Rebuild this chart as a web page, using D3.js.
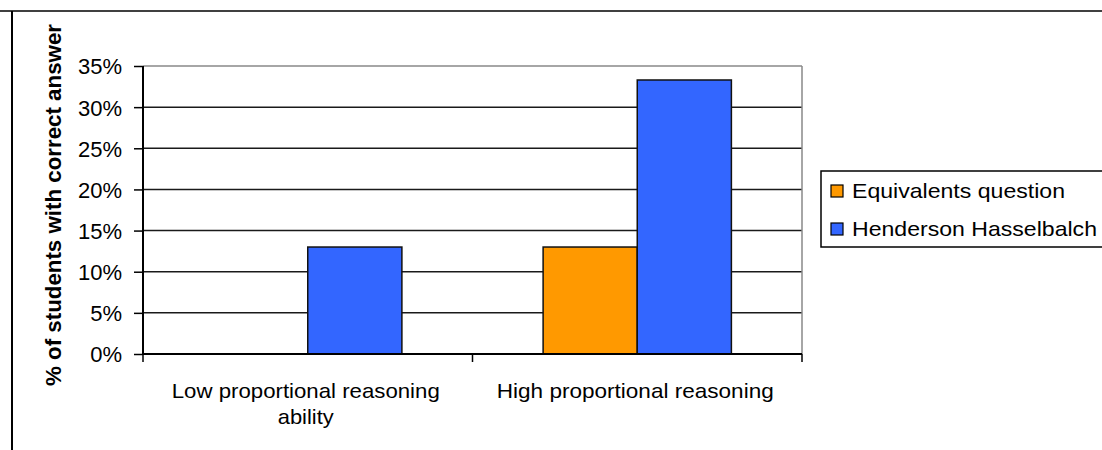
<!DOCTYPE html>
<html>
<head>
<meta charset="utf-8">
<script src="https://cdn.jsdelivr.net/npm/d3@7"></script>
<style>
  html, body { margin: 0; padding: 0; background: #fff; }
  svg { display: block; }
  text { font-family: "Liberation Sans", Arial, sans-serif; fill: #000; }
</style>
</head>
<body>
<svg id="chart" width="1102" height="450"></svg>
<script>
// ---- data ----
const categories = ["Low proportional reasoning ability", "High proportional reasoning"];
const categoryLines = [["Low proportional reasoning", "ability"], ["High proportional reasoning"]];
const categoryLineWidths = [[268, 56], [277]];
const series = ["Equivalents question", "Henderson Hasselbalch"];
const legendWidths = [213, 245];
const equivalentsValues = [0, 0.13];
const hendersonValues = [0.13, 0.333];
const yTicks = [0, 0.05, 0.10, 0.15, 0.20, 0.25, 0.30, 0.35];
const colors = ["#FF9900", "#3366FF"];

const svg = d3.select("#chart");

// frame lines
svg.append("line").attr("x1", 0).attr("x2", 1102).attr("y1", 11).attr("y2", 11)
  .attr("stroke", "#000").attr("stroke-width", 1.5);
svg.append("line").attr("x1", 12).attr("x2", 12).attr("y1", 11).attr("y2", 450)
  .attr("stroke", "#000").attr("stroke-width", 2);

const plot = { left: 143, right: 802, top: 66, bottom: 354 };

const x0 = d3.scaleBand().domain(categories).range([plot.left, plot.right]).padding(0);
const y = d3.scaleLinear().domain([0, 0.35]).range([plot.bottom, plot.top]);
const bw = x0.bandwidth();
const barW = bw / 3.5;
const x1 = d3.scaleBand().domain(series).range([barW * 0.75, bw - barW * 0.75]).padding(0);

// gridlines
svg.append("g").selectAll("line").data(yTicks.filter(t => t > 0 && t < 0.35)).join("line")
  .attr("x1", plot.left).attr("x2", plot.right)
  .attr("y1", d => y(d)).attr("y2", d => y(d))
  .attr("stroke", "#1a1a1a").attr("stroke-width", 1.5);

// top and right border (grey)
svg.append("line").attr("x1", plot.left).attr("x2", plot.right).attr("y1", plot.top).attr("y2", plot.top)
  .attr("stroke", "#888").attr("stroke-width", 1.5);
svg.append("line").attr("x1", plot.right).attr("x2", plot.right).attr("y1", plot.top).attr("y2", plot.bottom)
  .attr("stroke", "#888").attr("stroke-width", 1.5);

// bars
const rows = categories.map((c, i) => ({ cat: c, vals: [equivalentsValues[i], hendersonValues[i]] }));
const groups = svg.append("g").selectAll("g").data(rows).join("g")
  .attr("transform", d => `translate(${x0(d.cat)},0)`);
groups.selectAll("rect")
  .data(d => d.vals.map((v, j) => ({ s: series[j], v, j })).filter(e => e.v > 0))
  .join("rect")
  .attr("x", d => x1(d.s)).attr("width", x1.bandwidth())
  .attr("y", d => y(d.v)).attr("height", d => plot.bottom - y(d.v))
  .attr("fill", d => colors[d.j]).attr("stroke", "#111").attr("stroke-width", 1.5);

// y axis
const yAxis = d3.axisLeft(y).tickValues(yTicks).tickFormat(d3.format(".0%")).tickSize(9).tickPadding(12);
const gy = svg.append("g").attr("transform", `translate(${plot.left},0)`).call(yAxis);
gy.select(".domain").attr("stroke", "#000").attr("stroke-width", 2).attr("d", `M0,${plot.top}V${plot.bottom}`);
gy.selectAll(".tick line").attr("stroke", "#000").attr("stroke-width", 1.5);
gy.selectAll(".tick text").style("font-size", "22px").style("font-family", '"Liberation Sans", Arial, sans-serif')
  .attr("dy", "0.36em").attr("fill", "#000");

// x axis baseline and ticks at category boundaries
svg.append("line").attr("x1", plot.left).attr("x2", plot.right).attr("y1", plot.bottom).attr("y2", plot.bottom)
  .attr("stroke", "#000").attr("stroke-width", 2);
const bounds = categories.map(c => x0(c)).concat([plot.right]);
svg.append("g").selectAll("line").data(bounds).join("line")
  .attr("x1", d => d).attr("x2", d => d).attr("y1", plot.bottom).attr("y2", plot.bottom + 8)
  .attr("stroke", "#000").attr("stroke-width", 1.5);

// x labels
categories.forEach((c, i) => {
  categoryLines[i].forEach((line, k) => {
    svg.append("text")
      .attr("x", x0(c) + bw / 2 - 2)
      .attr("y", 398 + k * 26)
      .attr("text-anchor", "middle")
      .style("font-size", "21px")
      .attr("textLength", categoryLineWidths[i][k])
      .attr("lengthAdjust", "spacingAndGlyphs")
      .text(line);
  });
});

// y title
svg.append("text")
  .attr("transform", "translate(61,205) rotate(-90)")
  .attr("text-anchor", "middle")
  .style("font-size", "22px").style("font-weight", "bold")
  .attr("textLength", 362).attr("lengthAdjust", "spacingAndGlyphs")
  .text("% of students with correct answer");

// legend
const lg = svg.append("g");
lg.append("rect").attr("x", 821).attr("y", 171).attr("width", 290).attr("height", 76)
  .attr("fill", "#fff").attr("stroke", "#000").attr("stroke-width", 1.5);
const li = lg.selectAll("g").data(series).join("g")
  .attr("transform", (d, i) => `translate(0,${i * 38})`);
li.append("rect").attr("x", 831).attr("y", 185).attr("width", 12).attr("height", 12)
  .attr("fill", (d, i) => colors[i]).attr("stroke", "#000").attr("stroke-width", 1.2);
li.append("text").attr("x", 852).attr("y", 198).style("font-size", "21px")
  .attr("textLength", (d, i) => legendWidths[i]).attr("lengthAdjust", "spacingAndGlyphs")
  .text(d => d);
</script>
</body>
</html>
